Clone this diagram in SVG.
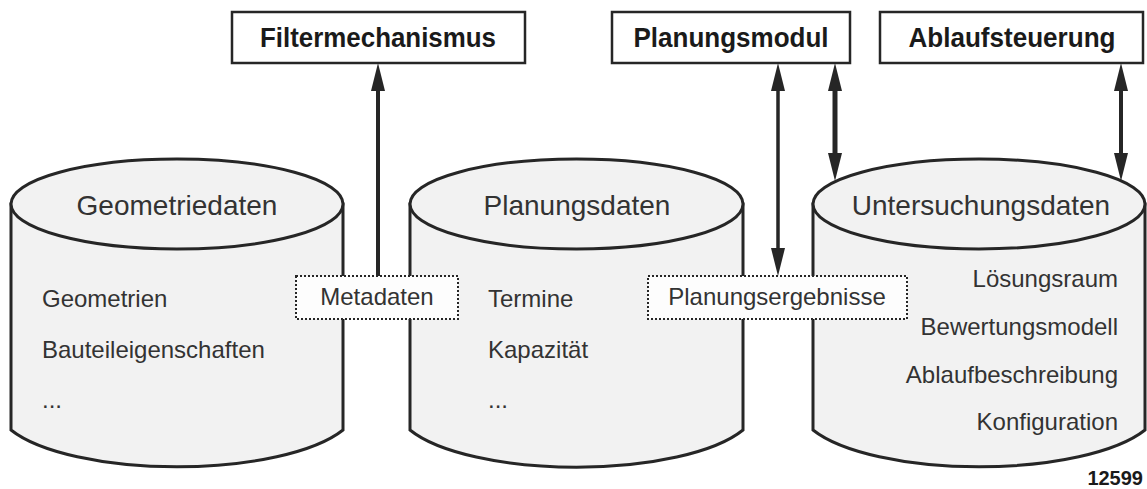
<svg xmlns="http://www.w3.org/2000/svg" width="1147" height="489" viewBox="0 0 1147 489">
  <style>
    .cyl { fill: #f2f2f2; stroke: #262626; stroke-width: 3; }
    .box { fill: #ffffff; stroke: #262626; stroke-width: 2.5; }
    .tag { fill: #fdfdfd; stroke: #262626; stroke-width: 2; stroke-dasharray: 2 2; }
    .title { font-family: "Liberation Sans", Arial, sans-serif; font-size: 28px; fill: #333333; text-anchor: middle; }
    .item { font-family: "Liberation Sans", Arial, sans-serif; font-size: 24px; fill: #333333; }
    .right { text-anchor: end; }
    .mid { text-anchor: middle; }
    .head { font-family: "Liberation Sans", Arial, sans-serif; font-size: 28px; font-weight: bold; fill: #1a1a1a; text-anchor: middle; }
    .num { font-family: "Liberation Sans", Arial, sans-serif; font-size: 20px; font-weight: bold; fill: #1a1a1a; text-anchor: end; }
    .link { stroke: #262626; fill: none; }
  </style>
  <defs>
    <marker id="arrow" viewBox="0 0 28 14" refX="8" refY="7" markerWidth="28" markerHeight="14" markerUnits="userSpaceOnUse" orient="auto-start-reverse">
      <path d="M0,0 L28,7 L0,14 Z" fill="#262626"/>
    </marker>
  </defs>

  <!-- data stores -->
  <g id="geometriedaten">
    <path class="cyl" d="M11,204 L11,430 A180,60 0 0 0 343,430 L343,204 Z"/>
    <ellipse class="cyl" cx="177" cy="204" rx="166" ry="45"/>
    <text class="title" x="177" y="215">Geometriedaten</text>
    <text class="item" x="42" y="307">Geometrien</text>
    <text class="item" x="42" y="358">Bauteileigenschaften</text>
    <text class="item" x="42" y="408">...</text>
  </g>

  <g id="planungsdaten">
    <path class="cyl" d="M410,204 L410,430 A180,60 0 0 0 743,430 L743,204 Z"/>
    <ellipse class="cyl" cx="576.5" cy="204" rx="166.5" ry="45"/>
    <text class="title" x="577" y="215">Planungsdaten</text>
    <text class="item" x="488" y="307">Termine</text>
    <text class="item" x="488" y="358">Kapazität</text>
    <text class="item" x="488" y="408">...</text>
  </g>

  <g id="untersuchungsdaten">
    <path class="cyl" d="M813,204 L813,430 A180,60 0 0 0 1145,430 L1145,204 Z"/>
    <ellipse class="cyl" cx="979" cy="204" rx="166" ry="45"/>
    <text class="title" x="981" y="215">Untersuchungsdaten</text>
    <text class="item right" x="1118" y="287">Lösungsraum</text>
    <text class="item right" x="1118" y="335">Bewertungsmodell</text>
    <text class="item right" x="1118" y="383">Ablaufbeschreibung</text>
    <text class="item right" x="1118" y="430">Konfiguration</text>
  </g>

  <!-- modules -->
  <g id="filtermechanismus">
    <rect class="box" x="232" y="12" width="293" height="51"/>
    <text class="head" x="378" y="47" textLength="236" lengthAdjust="spacingAndGlyphs">Filtermechanismus</text>
  </g>
  <g id="planungsmodul">
    <rect class="box" x="612" y="12" width="238" height="51"/>
    <text class="head" x="731" y="47" textLength="195" lengthAdjust="spacingAndGlyphs">Planungsmodul</text>
  </g>
  <g id="ablaufsteuerung">
    <rect class="box" x="880" y="12" width="263" height="51"/>
    <text class="head" x="1012" y="47" textLength="207" lengthAdjust="spacingAndGlyphs">Ablaufsteuerung</text>
  </g>

  <!-- connectors -->
  <g id="connectors">
    <line class="link" x1="378" y1="276" x2="378" y2="83" stroke-width="4" marker-end="url(#arrow)"/>
    <line class="link" x1="778" y1="83" x2="778" y2="256" stroke-width="3.5" marker-start="url(#arrow)" marker-end="url(#arrow)"/>
    <line class="link" x1="835" y1="83" x2="835" y2="161" stroke-width="5" marker-start="url(#arrow)" marker-end="url(#arrow)"/>
    <line class="link" x1="1121" y1="83" x2="1121" y2="161" stroke-width="4" marker-start="url(#arrow)" marker-end="url(#arrow)"/>
  </g>

  <!-- exchanged data -->
  <g id="metadaten">
    <rect class="tag" x="296" y="276" width="162" height="43"/>
    <text class="item mid" x="377" y="305">Metadaten</text>
  </g>
  <g id="planungsergebnisse">
    <rect class="tag" x="648" y="276" width="259" height="43"/>
    <text class="item mid" x="777" y="305">Planungsergebnisse</text>
  </g>

  <text class="num" x="1143" y="485">12599</text>
</svg>
